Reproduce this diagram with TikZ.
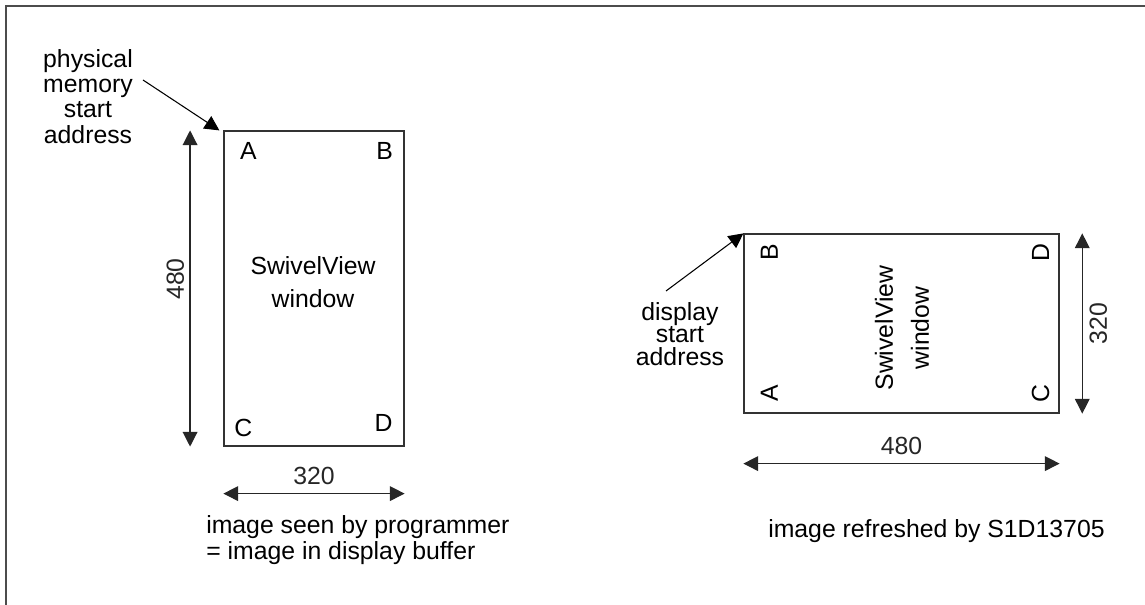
\documentclass[tikz,border=0pt]{standalone}
\usepackage{fontspec}
\setmainfont{Liberation Sans}
\usetikzlibrary{
    arrows.meta,
    positioning,
    calc
}
\tikzset{
    % --- Window outline (memory image) ---
    window/.style = {
        rectangle, draw=black!80, line width=0.9pt,
        inner sep=0pt
    },
    % --- Plain text label ---
    label/.style = {
        font=\fontsize{18.6}{19.5}\selectfont,
        inner sep=0pt, align=center
    },
    % --- Corner letter inside a window ---
    corner/.style = {
        label
    },
    % --- Dimension arrow (both ends) ---
    dim arrow/.style = {
        {Triangle[length=11pt, width=11pt]}-{Triangle[length=11pt, width=11pt]},
        line width=0.9pt, black!85
    },
    % --- Pointer arrow to a start address ---
    ptr arrow/.style = {
        -{Triangle[length=11pt, width=11pt]},
        line width=0.8pt
    },
    % --- Figure frame ---
    frame/.style = {
        line width=1.3pt, black!70
    }
}

\begin{document}
\begin{tikzpicture}[x=0.75pt, y=-0.75pt]

\useasboundingbox (0,0) rectangle (1145,605);

% ---------------------------------------------------------
% Frame
% ---------------------------------------------------------
\draw[frame] (1145,6) -- (6,6) -- (6,605);

% ---------------------------------------------------------
% Left: image seen by programmer
% ---------------------------------------------------------
\node[window, minimum width=135pt, minimum height=236.25pt] (ProgWin) at (314, 288.5) {};

\node[corner] (ProgA) at ($(ProgWin.north west)+(25,21)$) {A};
\node[corner] (ProgB) at ($(ProgWin.north east)+(-20,21)$) {B};
\node[corner] (ProgC) at ($(ProgWin.south west)+(20,-19)$) {C};
\node[corner] (ProgD) at ($(ProgWin.south east)+(-21,-24)$) {D};

\node[label, font=\fontsize{18.6}{25}\selectfont] (ProgText) at (313, 282) {SwivelView\\window};

% dimensions
\draw[dim arrow] ([xshift=-25pt]ProgWin.south west) -- ([xshift=-25pt]ProgWin.north west)
    node[label, pos=0.53, sloped, above=4pt] (ProgHeight) {480};
\draw[dim arrow] ([yshift=-35.25pt]ProgWin.south west) -- ([yshift=-35.25pt]ProgWin.south east)
    node[label, midway, above=6pt] (ProgWidth) {320};

% start address
\node[label, anchor=north, font=\fontsize{18.6}{19}\selectfont] (PhysAddr) at (88, 49)
    {physical\\memory\\start\\address};
\coordinate (PhysTail) at (143, 80);
\draw[ptr arrow] (PhysTail) -- ([xshift=-3pt]ProgWin.north west);

\node[label, anchor=north west, align=left] (ProgCap) at (206, 515)
    {image seen by programmer\\= image in display buffer};

% ---------------------------------------------------------
% Right: image refreshed by the controller
% ---------------------------------------------------------
\node[window, minimum width=236.25pt, minimum height=134.25pt] (DispWin) at (901.5, 323.5) {};

\node[corner, rotate=90] (DispB) at ($(DispWin.north west)+(26,19)$) {B};
\node[corner, rotate=90] (DispA) at ($(DispWin.south west)+(26,-20)$) {A};
\node[corner, rotate=90] (DispD) at ($(DispWin.north east)+(-19,19)$) {D};
\node[corner, rotate=90] (DispC) at ($(DispWin.south east)+(-19,-20)$) {C};

\node[label, rotate=90, font=\fontsize{18.6}{27}\selectfont] (DispText) at (902, 328) {SwivelView\\window};

% dimensions
\draw[dim arrow] ([xshift=17pt]DispWin.south east) -- ([xshift=17pt]DispWin.north east)
    node[label, midway, sloped, below=5pt] (DispHeight) {320};
\draw[dim arrow] ([yshift=-37.5pt]DispWin.south west) -- ([yshift=-37.5pt]DispWin.south east)
    node[label, midway, above=6pt] (DispWidth) {480};

% start address
\node[label, anchor=north, font=\fontsize{18.6}{16.8}\selectfont] (DispAddr) at (680, 302)
    {display\\start\\address};
\coordinate (DispTail) at (666, 291);
\draw[ptr arrow] (DispTail) -- (DispWin.north west);

\node[label, anchor=base west] (DispCap) at (768, 537) {image refreshed by S1D13705};

\end{tikzpicture}
\end{document}
